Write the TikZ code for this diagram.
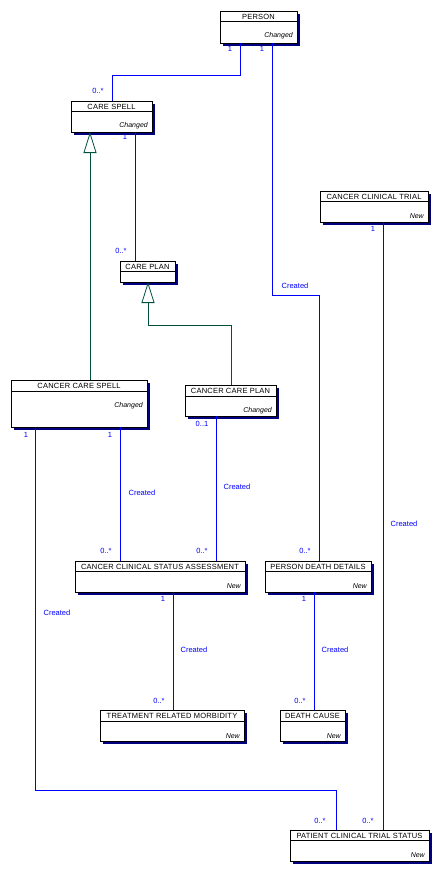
\documentclass[tikz,border=0pt]{standalone}
\usepackage{fontspec}
\setmainfont{Liberation Sans}
\newfontfamily\ttlfont[LetterSpace=3]{Liberation Sans}
\usetikzlibrary{arrows.meta,shadows}
\definecolor{assoc}{RGB}{0,0,255}
\definecolor{shade}{RGB}{0,0,128}
\definecolor{gen}{RGB}{0,80,64}
\tikzset{
 clsbox/.style={draw=black, line width=0.9pt, fill=white, anchor=north west, inner sep=0pt, outer sep=0pt,
   general shadow={fill=shade, shadow xshift=3pt, shadow yshift=-3pt}},
 ttl/.style={font=\ttlfont\fontsize{7.5}{8}\selectfont, inner sep=0pt, anchor=center},
 stereo/.style={font=\fontsize{7}{8}\selectfont\itshape, inner sep=0pt, anchor=east},
 assocline/.style={draw=assoc, line width=0.8pt},
 genline/.style={draw=gen, line width=0.8pt, -{Triangle[open, length=21pt, width=13pt]}},
 lbl/.style={text=assoc, font=\fontsize{7.5}{8}\selectfont, inner sep=0pt},
}
% name x y w h sep title stereo
\newcommand\umlcls[8]{%
 \node[clsbox, minimum width=#4pt, minimum height=#5pt] (#1) at (#2,#3) {};
 \draw[line width=0.9pt] ([yshift=-#6pt]#1.north west) -- ([yshift=-#6pt]#1.north east);
 \node[ttl] (#1-title) at ([yshift={-0.5*#6pt-0.5pt}]#1.north) {#7};
 \node[stereo] (#1-st) at ([xshift=-4pt,yshift={-#6pt-15pt}]#1.north east) {#8};
}
\begin{document}
\begin{tikzpicture}[x=1pt,y=-1pt]
\fill[white] (0,0) rectangle (443,875);
\useasboundingbox (0,0) rectangle (443,875);

\umlcls{person}{220}{11}{77}{32}{10}{PERSON}{Changed}
\umlcls{carespell}{71}{101}{81}{31}{10}{CARE SPELL}{Changed}
\umlcls{cct}{320}{191}{108}{31}{10}{CANCER CLINICAL TRIAL}{New}
\umlcls{careplan}{120}{261}{55}{21}{10}{CARE PLAN}{}
\umlcls{ccs}{11}{380}{136}{47}{11}{CANCER CARE SPELL}{Changed}
\umlcls{ccp}{185}{385}{91}{31}{11}{CANCER CARE PLAN}{Changed}
\umlcls{ccsa}{75}{561}{170}{31}{10}{CANCER CLINICAL STATUS ASSESSMENT}{New}
\umlcls{pdd}{265}{561}{106}{31}{10}{PERSON DEATH DETAILS}{New}
\umlcls{trm}{100}{710}{144}{31}{11}{TREATMENT RELATED MORBIDITY}{New}
\umlcls{dc}{280}{710}{65}{31}{11}{DEATH CAUSE}{New}
\umlcls{pcts}{290}{830}{139}{31}{10}{PATIENT CLINICAL TRIAL STATUS}{New}

% associations
\draw[assocline] ([xshift=20pt]person.south west) -- ++(0,32) -| ([xshift=41pt]carespell.north west);
\draw[assocline] ([xshift=52pt]person.south west) -- ++(0,252) -| ([xshift=54pt]pdd.north west);
\draw[assocline] ([xshift=64pt]carespell.south west) -- ([xshift=15pt]careplan.north west);
\draw[assocline] ([xshift=63pt]cct.south west) -- ([xshift=93pt]pcts.north west);
\draw[assocline] ([xshift=24pt]ccs.south west) -- ++(0,363) -| ([xshift=46pt]pcts.north west);
\draw[assocline] ([xshift=109pt]ccs.south west) -- ([xshift=45pt]ccsa.north west);
\draw[assocline] ([xshift=31pt]ccp.south west) -- ([xshift=141pt]ccsa.north west);
\draw[assocline] ([xshift=98pt]ccsa.south west) -- ([xshift=73pt]trm.north west);
\draw[assocline] ([xshift=49pt]pdd.south west) -- ([xshift=34pt]dc.north west);

% generalizations
\draw[genline] ([xshift=79pt]ccs.north west) -- ([xshift=19pt]carespell.south west);
\draw[genline] ([xshift=46pt]ccp.north west) -- ++(0,-60) -| ([xshift=28pt]careplan.south west);

% labels
\node[lbl] (l1) at (230,49) {1};
\node[lbl] (l2) at (98,91) {0..*};
\node[lbl] (l3) at (262,49) {1};
\node[lbl] (l4) at (295,286) {Created};
\node[lbl] (l5) at (125,137) {1};
\node[lbl] (l6) at (121,251) {0..*};
\node[lbl] (l7) at (373,229) {1};
\node[lbl] (l8) at (404,524) {Created};
\node[lbl] (l9) at (26,435) {1};
\node[lbl] (l10) at (110,435) {1};
\node[lbl] (l11) at (202,424) {0..1};
\node[lbl] (l12) at (142,493) {Created};
\node[lbl] (l13) at (237,487) {Created};
\node[lbl] (l14) at (106,551) {0..*};
\node[lbl] (l15) at (202,551) {0..*};
\node[lbl] (l16) at (305,551) {0..*};
\node[lbl] (l17) at (163,599) {1};
\node[lbl] (l18) at (194,650) {Created};
\node[lbl] (l19) at (159,701) {0..*};
\node[lbl] (l20) at (304,599) {1};
\node[lbl] (l21) at (335,650) {Created};
\node[lbl] (l22) at (300,701) {0..*};
\node[lbl] (l23) at (57,613) {Created};
\node[lbl] (l24) at (320,821) {0..*};
\node[lbl] (l25) at (368,821) {0..*};
\end{tikzpicture}
\end{document}
